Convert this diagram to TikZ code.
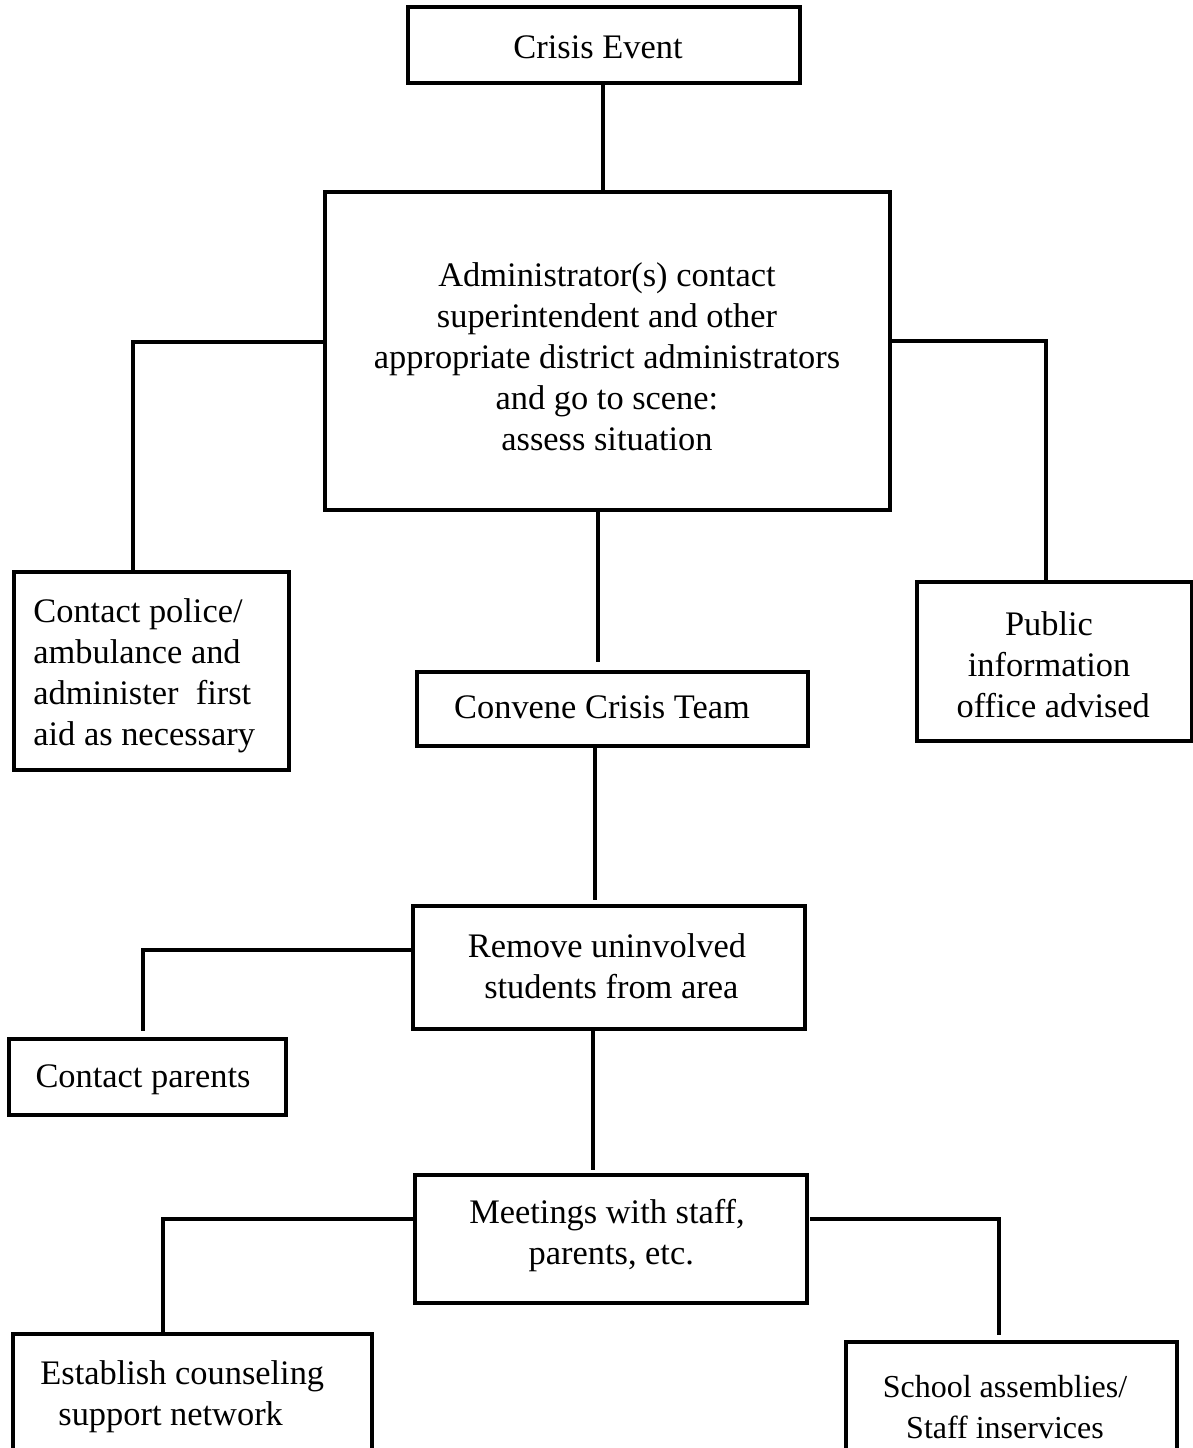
\documentclass[tikz,border=0pt]{standalone}
\usepackage{fontspec}
\setmainfont{Liberation Serif}
\begin{document}
\begin{tikzpicture}[x=0.5pt,y=-0.5pt,
  box/.style={draw=black, line width=1.8pt, inner sep=0pt},
  lbl/.style={inner sep=0pt, font=\fontsize{17.2}{20.5}\selectfont},
  small/.style={inner sep=0pt, font=\fontsize{16}{20.5}\selectfont},
  link/.style={draw=black, line width=1.8pt}]
\useasboundingbox (0,0) rectangle (1193,1448);
\clip (0,0) rectangle (1193,1448);

% boxes
\node[box, minimum width=196pt,   minimum height=38pt]   (crisis)    at (604,45)      {};
\node[box, minimum width=282.5pt, minimum height=159pt]  (admin)     at (607.5,351)   {};
\node[box, minimum width=137.5pt, minimum height=99pt]   (police)    at (151.5,671)   {};
\node[box, minimum width=137.5pt, minimum height=79.5pt] (public)    at (1054.5,661.5){};
\node[box, minimum width=195.5pt, minimum height=37pt]   (convene)   at (612.5,709)   {};
\node[box, minimum width=196pt,   minimum height=61.5pt] (remove)    at (609,967.5)   {};
\node[box, minimum width=138.5pt, minimum height=38pt]   (parents)   at (147.5,1077)  {};
\node[box, minimum width=196pt,   minimum height=64pt]   (meetings)  at (611,1239)    {};
\node[box, minimum width=179.5pt, minimum height=73pt]   (establish) at (192.5,1407)  {};
\node[box, minimum width=165.5pt, minimum height=69pt]   (school)    at (1011.5,1411) {};

% texts
\node[lbl] (tcrisis) at (598,47) {Crisis Event};
\node[lbl, align=center] (tadmin) at (607,357) {Administrator(s) contact\\superintendent and other\\appropriate district administrators\\and go to scene:\\assess situation};
\node[lbl, align=left, anchor=west] (tpolice) at (33,676) {Contact police/\\ambulance and\\administer\ \ first\\aid as necessary};
\node[lbl, align=center] (tpublic) at (1049,665) {Public\\information\\\ office advised};
\node[lbl] (tconvene) at (602,707) {Convene Crisis Team};
\node[lbl, align=center] (tremove) at (607,966) {Remove uninvolved\\\ students from area};
\node[lbl] (tparents) at (143,1080) {Contact parents};
\node[lbl, align=center] (tmeetings) at (607,1236) {Meetings with staff,\\\ parents, etc.};
\node[lbl, align=left, anchor=west] (testablish) at (40,1397) {Establish counseling\\\hspace{9pt}support network};
\node[small, align=center] (tschool) at (1005,1407) {School assemblies/\\Staff inservices};

% free ends of the connectors
\coordinate (jl) at (133,342);
\coordinate (jr) at (1046,341);
\coordinate (ja) at (598,662);
\coordinate (jc) at (595,900);
\coordinate (jp) at (143,950);
\coordinate (jm) at (593,1170);
\coordinate (jel) at (163,1219);
\coordinate (jer) at (999,1219);
\coordinate (jers) at (810,1219);

% connectors
\draw[link] (603,0 |- crisis.south) -- (603,0 |- admin.north);
\draw[link] (admin.west |- jl) -- (jl) -- (jl |- police.north);
\draw[link] (admin.east |- jr) -- (jr) -- (jr |- public.north);
\draw[link] (ja |- admin.south) -- (ja);
\draw[link] (jc |- convene.south) -- (jc);
\draw[link] (remove.west |- jp) -- (jp) -- ([yshift=3pt]jp |- parents.north);
\draw[link] (jm |- remove.south) -- (jm);
\draw[link] (meetings.west |- jel) -- (jel) -- (jel |- establish.north);
\draw[link] (jers) -- (jer) -- ([yshift=2.5pt]jer |- school.north);
\end{tikzpicture}
\end{document}
